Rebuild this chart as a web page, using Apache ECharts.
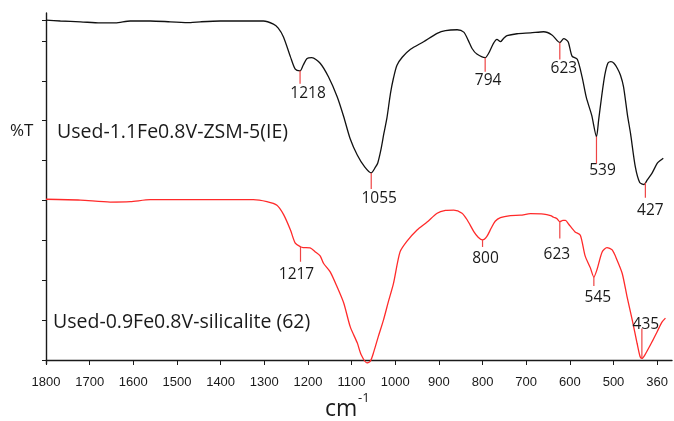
<!DOCTYPE html>
<html>
<head>
<meta charset="utf-8">
<script src="https://cdn.jsdelivr.net/npm/echarts@6/dist/echarts.min.js"></script>
<style>
html, body { margin: 0; padding: 0; background: #fff; }
#ftir { width: 674px; height: 421px; }
</style>
</head>
<body>
<div id="ftir"></div>
<script>
// spectra: wavenumber (cm-1) and %T (offset, arbitrary units)
const zsmWn = [1800, 1767, 1721, 1676, 1641, 1607, 1561, 1515, 1469, 1446, 1401, 1332, 1302, 1279, 1268, 1256,
  1240, 1229, 1218, 1211, 1202, 1191, 1172, 1153, 1133, 1118, 1103, 1087, 1070, 1055, 1045, 1040, 1033, 1026,
  1019, 1011, 1004, 996, 984, 965, 935, 904, 885, 858, 843, 833, 824, 813, 794, 786, 775, 767, 759, 752, 744,
  721, 690, 660, 641, 623, 614, 604, 595, 583, 572, 562, 550, 539, 534, 527, 520, 513, 506, 499, 491, 484, 477,
  468, 461, 450, 440, 430, 423, 412, 400, 393, 386];
const zsmT = [8.52, 8.50, 8.48, 8.45, 8.45, 8.50, 8.50, 8.48, 8.46, 8.48, 8.50, 8.50, 8.50, 8.42, 8.32, 8.10,
  7.60, 7.29, 7.25, 7.39, 7.56, 7.58, 7.44, 7.10, 6.60, 6.10, 5.54, 5.14, 4.84, 4.69, 4.84, 4.94, 5.26, 5.68,
  6.07, 6.68, 7.07, 7.39, 7.59, 7.79, 7.98, 8.19, 8.26, 8.28, 8.22, 8.02, 7.81, 7.67, 7.58, 7.69, 7.94, 8.04,
  7.98, 8.06, 8.13, 8.18, 8.20, 8.23, 8.15, 7.96, 8.06, 7.98, 7.62, 7.54, 7.10, 6.57, 6.14, 5.60, 6.02, 6.62,
  7.14, 7.44, 7.48, 7.44, 7.31, 7.14, 6.85, 6.14, 5.68, 4.84, 4.45, 4.40, 4.51, 4.68, 4.93, 5.00, 5.06];

const silWn = [1800, 1721, 1653, 1607, 1561, 1446, 1325, 1294, 1271, 1256, 1240, 1229, 1217, 1211, 1195, 1183,
  1172, 1164, 1149, 1133, 1118, 1103, 1087, 1078, 1065, 1057, 1049, 1039, 1027, 1016, 1004, 989, 973, 950, 927,
  904, 885, 866, 847, 835, 820, 810, 800, 790, 780, 771, 759, 736, 713, 690, 660, 644, 637, 630, 623, 616, 610,
  603, 588, 576, 565, 553, 545, 538, 526, 515, 503, 492, 480, 469, 457, 446, 439, 435, 428, 412, 400, 389, 381];
const silT = [4.03, 4.01, 3.96, 3.97, 4.02, 4.02, 4.02, 3.97, 3.88, 3.65, 3.26, 2.93, 2.84, 2.82, 2.81, 2.71,
  2.61, 2.42, 2.21, 1.83, 1.43, 0.83, 0.43, 0.13, -0.07, -0.03, 0.21, 0.58, 1.00, 1.45, 1.92, 2.71, 2.98, 3.26,
  3.46, 3.68, 3.75, 3.76, 3.68, 3.51, 3.22, 3.08, 3.01, 3.10, 3.31, 3.48, 3.57, 3.62, 3.63, 3.67, 3.66, 3.62,
  3.58, 3.55, 3.47, 3.50, 3.50, 3.41, 3.21, 3.13, 2.61, 2.31, 2.08, 2.26, 2.71, 2.82, 2.76, 2.51, 2.17, 1.59,
  1.00, 0.42, 0.08, 0.04, 0.13, 0.45, 0.71, 0.95, 1.05];

const zsmPeaks = [1218, 1055, 794, 623, 539, 427];
const silPeaks = [1217, 800, 623, 545, 435];

const xTickValues = [1800, 1700, 1600, 1500, 1400, 1300, 1200, 1100, 1000, 900, 800, 700, 600, 500, 400];
const xTickLabels = ['1800', '1700', '1600', '1500', '1400', '1300', '1200', '1100', '1000', '900', '800',
  '700', '600', '500', '360'];
const yTickValues = [0, 1, 2, 3, 4, 5, 6, 7, 8, 8.52];

const zsmName = 'Used-1.1Fe0.8V-ZSM-5(IE)';
const silName = 'Used-0.9Fe0.8V-silicalite (62)';

// marker line length, label dx, label dy (px) for each peak
const zsmPeakLayout = [[13, 8, 23], [16, 8, 26], [14, 3, 23], [17, 4, 26], [27, 6, 34], [15, 5, 28]];
const silPeakLayout = [[15, -4, 28], [7, 3, 19], [17, -3, 33], [9, 4, 21], [-30, 4, -34]];

function valueAt(w, ws, ts) {
  for (let i = 0; i < ws.length - 1; i++) {
    if (ws[i] >= w && w >= ws[i + 1]) {
      const f = (ws[i] - w) / (ws[i] - ws[i + 1]);
      return ts[i] + f * (ts[i + 1] - ts[i]);
    }
  }
  return ts[ts.length - 1];
}

function peakSeries(peaks, ws, ts, layout) {
  return {
    type: 'custom',
    silent: true,
    z: 5,
    data: peaks.map((p, i) => [p, valueAt(p, ws, ts), i]),
    renderItem: function (params, api) {
      const pt = api.coord([api.value(0), api.value(1)]);
      const lay = layout[api.value(2)];
      return {
        type: 'group',
        children: [
          {
            type: 'line',
            shape: { x1: pt[0], y1: pt[1], x2: pt[0], y2: pt[1] + lay[0] },
            style: { stroke: '#ee4444', lineWidth: 1.2 }
          },
          {
            type: 'text',
            x: pt[0] + lay[1],
            y: pt[1] + lay[2],
            style: {
              text: String(api.value(0)),
              fill: '#1a1a1a',
              fontSize: 15.5,
              fontFamily: 'Open Sans',
              align: 'center',
              verticalAlign: 'middle'
            }
          }
        ]
      };
    }
  };
}

var chart = echarts.init(document.getElementById('ftir'));
chart.setOption({
  animation: false,
  grid: { left: 46, right: 2, top: 13, bottom: 57, outerBoundsMode: 'none' },
  xAxis: {
    type: 'value',
    inverse: true,
    min: 366,
    max: 1800,
    splitLine: { show: false },
    axisLine: { lineStyle: { color: '#1a1a1a', width: 1.4 } },
    axisTick: { customValues: xTickValues, length: 5, lineStyle: { color: '#1a1a1a' } },
    axisLabel: {
      customValues: xTickValues,
      margin: 12,
      color: '#1a1a1a',
      fontSize: 13,
      fontFamily: '"Liberation Sans Narrow", "Liberation Sans", sans-serif',
      formatter: function (v) { return xTickLabels[xTickValues.indexOf(v)]; }
    }
  },
  yAxis: {
    type: 'value',
    min: -0.1,
    max: 8.7,
    splitLine: { show: false },
    axisLine: { show: true, lineStyle: { color: '#1a1a1a', width: 1.4 } },
    axisTick: { show: true, customValues: yTickValues, length: 4, lineStyle: { color: '#1a1a1a' } },
    axisLabel: { show: false }
  },
  graphic: [
    { type: 'text', x: 10, y: 131, style: { text: '%T', fontSize: 17, fontFamily: 'Open Sans', fill: '#1a1a1a', verticalAlign: 'middle' } },
    { type: 'text', x: 57, y: 132, style: { text: zsmName, fontSize: 19.5, fontFamily: 'Open Sans', fill: '#1a1a1a', verticalAlign: 'middle' } },
    { type: 'text', x: 53, y: 322, style: { text: silName, fontSize: 19.5, fontFamily: 'Open Sans', fill: '#1a1a1a', verticalAlign: 'middle' } },
    { type: 'text', x: 325, y: 409, style: { text: 'cm', fontSize: 23, fontFamily: 'Open Sans', fill: '#1a1a1a', verticalAlign: 'middle' } },
    { type: 'text', x: 358, y: 398, style: { text: '-1', fontSize: 13, fontFamily: 'Open Sans', fill: '#1a1a1a', verticalAlign: 'middle' } }
  ],
  series: [
    {
      name: zsmName,
      type: 'line',
      data: zsmWn.map((w, i) => [w, zsmT[i]]),
      showSymbol: false,
      smooth: 0.25,
      lineStyle: { color: '#111', width: 1.3 }
    },
    {
      name: silName,
      type: 'line',
      data: silWn.map((w, i) => [w, silT[i]]),
      showSymbol: false,
      smooth: 0.25,
      lineStyle: { color: '#ff2a2a', width: 1.3 }
    },
    peakSeries(zsmPeaks, zsmWn, zsmT, zsmPeakLayout),
    peakSeries(silPeaks, silWn, silT, silPeakLayout)
  ]
});
</script>
</body>
</html>
